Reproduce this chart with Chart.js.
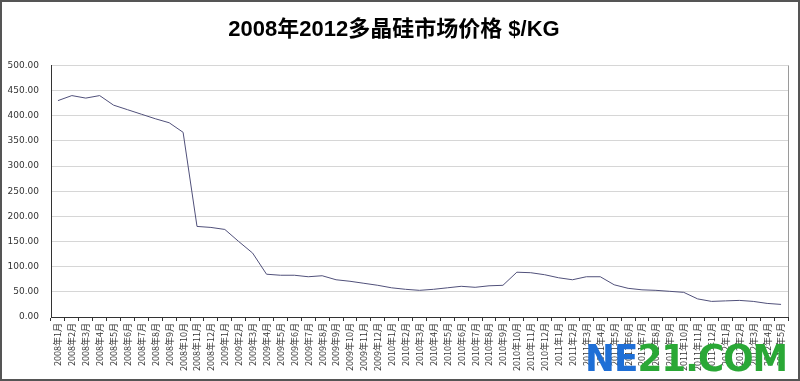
<!DOCTYPE html>
<html>
<head>
<meta charset="utf-8">
<script src="https://cdn.jsdelivr.net/npm/chart.js@4/dist/chart.umd.min.js"></script>
<style>
html,body{margin:0;padding:0;background:#fff;}
#wrap{position:relative;width:800px;height:381px;}
#logo{position:absolute;left:585px;top:336px;font-family:"DejaVu Sans",sans-serif;font-weight:bold;font-size:38px;line-height:44px;letter-spacing:-1px;white-space:nowrap;transform:scaleX(0.94);transform-origin:0 0;}
#logo .b{color:#1f6fd6;}
#logo .g{color:#2aa836;}
</style>
</head>
<body>
<div id="wrap">
<canvas id="c" width="800" height="381"></canvas>
<div id="logo"><span class="b">NE</span><span class="g">21.COM</span></div>
</div>
<script>
const titleText = "2008年2012多晶硅市场价格 $/KG";
const years = [2008, 2009, 2010, 2011, 2012];
const categories = [];
for (const y of years) {
  for (let m = 1; m <= 12; m++) {
    if (y === 2012 && m > 5) break;
    categories.push(y + "年" + m + "月");
  }
}
const prices = [
  430, 440, 435, 440, 421, 412, 403, 394, 386, 367, 180, 178,
  174, 150, 127, 85, 83, 83, 80, 82, 74, 71, 67, 63,
  58, 55, 53, 55, 58, 61, 59, 62, 63, 89, 88, 84,
  78, 74, 80, 80, 64, 57, 54, 53, 51, 49, 36, 31,
  32, 33, 31, 27, 25
];
const yTicks = [0, 50, 100, 150, 200, 250, 300, 350, 400, 450, 500];

const frame = {
  id: 'frame',
  afterDraw(chart) {
    const ctx = chart.ctx;
    const a = chart.chartArea;
    ctx.save();
    ctx.strokeStyle = '#9a9a9a';
    ctx.lineWidth = 1;
    ctx.beginPath();
    ctx.moveTo(Math.round(a.right) + 0.5, a.top);
    ctx.lineTo(Math.round(a.right) + 0.5, a.bottom);
    ctx.stroke();
    ctx.strokeStyle = '#555';
    ctx.lineWidth = 2;
    ctx.strokeRect(1, 1, chart.width - 2, chart.height - 2);
    ctx.restore();
  }
};

new Chart(document.getElementById('c'), {
  type: 'line',
  data: {
    labels: categories,
    datasets: [{
      data: prices,
      borderColor: '#50507a',
      borderWidth: 1,
      pointRadius: 0,
      tension: 0,
      fill: false
    }]
  },
  options: {
    responsive: false,
    animation: false,
    layout: { padding: { top: 0, right: 12, bottom: 0, left: 0 } },
    plugins: {
      legend: { display: false },
      tooltip: { enabled: false },
      title: {
        display: true,
        text: titleText,
        color: '#000',
        font: { family: '"Liberation Sans Narrow","Liberation Sans","Noto Sans CJK SC",sans-serif', size: 22, weight: 'bold' },
        padding: { top: 17, bottom: 22 }
      }
    },
    scales: {
      x: {
        type: 'category',
        offset: true,
        border: { color: '#333', width: 1 },
        grid: { drawOnChartArea: false, drawTicks: true, tickLength: 4, color: '#333', offset: true },
        ticks: {
          autoSkip: false,
          maxRotation: 90,
          minRotation: 90,
          padding: 2,
          color: '#333',
          font: { family: '"Noto Sans CJK SC",sans-serif', size: 9 }
        },
        afterFit(s) { s.height = 64; }
      },
      y: {
        min: 0,
        max: 500,
        afterBuildTicks(s) { s.ticks = yTicks.map(v => ({ value: v })); },
        border: { color: '#333', width: 1 },
        grid: { color: '#d6d6d6', drawTicks: false },
        ticks: {
          padding: 12,
          color: '#333',
          font: { family: '"DejaVu Sans",sans-serif', size: 9 },
          callback: v => Number(v).toFixed(2)
        },
        afterFit(s) { s.width = 51; }
      }
    }
  },
  plugins: [frame]
});
</script>
</body>
</html>
